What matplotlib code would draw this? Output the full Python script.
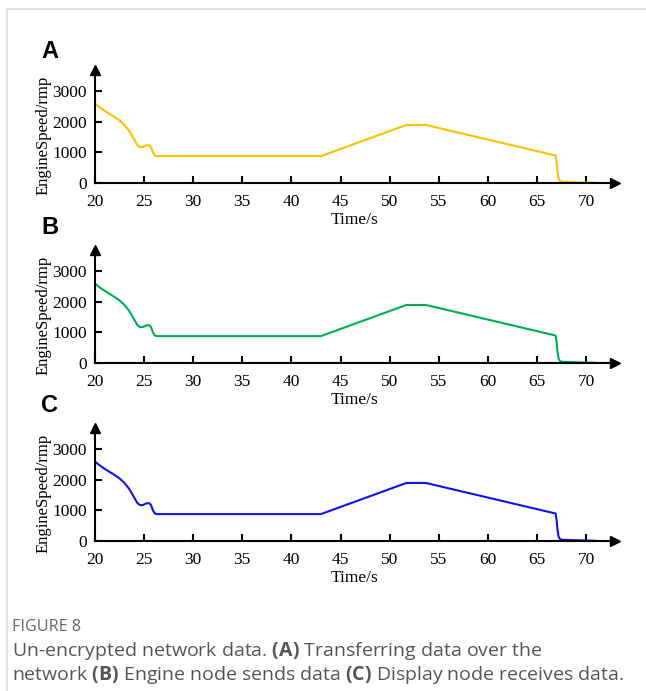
import matplotlib
matplotlib.use("Agg")
import matplotlib.pyplot as plt
from matplotlib.lines import Line2D

time_s = [20.0, 20.5, 21.0, 21.5, 22.0, 22.5, 23.0, 23.5, 24.0, 24.3, 24.6, 24.9, 25.2, 25.5, 25.7,
          25.9, 26.1, 26.3, 30.0, 35.0, 40.0, 43.0, 51.7, 53.7, 66.9, 67.0, 67.1, 67.2, 67.35,
          67.6, 68.5, 69.5, 70.5, 71.0]
speed = [2600, 2470, 2360, 2260, 2160, 2050, 1900, 1700, 1420, 1250, 1170, 1180, 1230, 1240, 1180,
         1000, 900, 880, 880, 880, 880, 880, 1900, 1900, 900, 700, 350, 150, 60,
         40, 30, 20, 10, 5]

series = [("A", "#FFC000"), ("B", "#00B050"), ("C", "#0A14F0")]
xticks = [20, 25, 30, 35, 40, 45, 50, 55, 60, 65, 70]
yticks = [0, 1000, 2000, 3000]

plt.rcParams["mathtext.fontset"] = "custom"
plt.rcParams["mathtext.rm"] = "Open Sans"
plt.rcParams["mathtext.bf"] = "Open Sans:bold"

W, H = 646, 691
fig = plt.figure(figsize=(W / 100, H / 100), dpi=100)

# frame lines
fig.add_artist(Line2D([7 / W, 7 / W], [0, 1 - 9 / H], color="#dddddd", lw=1.2))
fig.add_artist(Line2D([7 / W, 1], [1 - 9 / H, 1 - 9 / H], color="#dddddd", lw=1.2))

serif = ["Liberation Serif", "DejaVu Serif"]
zero_px = [183, 363, 541]
label_px = [52, 228, 405]

for (lab, col), y0, ly in zip(series, zero_px, label_px):
    left = 95 / W
    width = (615 - 95) / W
    bottom = 1 - y0 / H
    height = 113 / H
    ax = fig.add_axes([left, bottom, width, height])
    ax.plot(time_s, speed, color=col, lw=1.5, solid_joinstyle="round")
    ax.set_xlim(20, 72.95)
    ax.set_ylim(0, 3700)
    for s in ("top", "right"):
        ax.spines[s].set_visible(False)
    for s in ("left", "bottom"):
        ax.spines[s].set_linewidth(1.5)
    ax.plot(1, 0, ">", color="black", markersize=7, transform=ax.transAxes, clip_on=False)
    ax.plot(0, 1, "^", color="black", markersize=7, transform=ax.transAxes, clip_on=False)
    ax.set_xticks(xticks)
    ax.set_yticks(yticks)
    ax.tick_params(direction="in", length=5, width=1.5, labelsize=12.5)
    ax.tick_params(axis="x", pad=8)
    ax.tick_params(axis="y", pad=6)
    for t in ax.get_xticklabels() + ax.get_yticklabels():
        t.set_family(serif)
        t.set_fontweight("normal")
    ax.set_xlabel("Time/s", family=serif, fontsize=12.5, fontweight="normal", labelpad=1)
    ax.set_ylabel("EngineSpeed/rmp", family=serif, fontsize=12, fontweight="normal")
    ax.yaxis.set_label_coords(-0.083, 0.42)
    fig.text(41 / W, 1 - ly / H, lab, fontsize=17, fontweight="bold",
             family=["Liberation Sans", "DejaVu Sans"], va="center", ha="left")

cap = ["Open Sans", "DejaVu Sans"]
fig.text(12 / W, 1 - 627 / H, "FIGURE 8", fontsize=11.6, color="#666666",
         family=cap, va="center")
fig.text(12 / W, 1 - 651 / H, "Un-encrypted network data. $\\bf{(A)}$ Transferring data over the",
         fontsize=14, color="#555555", family=cap, va="center")
fig.text(12 / W, 1 - 675 / H,
         "network $\\bf{(B)}$ Engine node sends data $\\bf{(C)}$ Display node receives data.",
         fontsize=14, color="#555555", family=cap, va="center")

fig.savefig("out.png", dpi=100)
